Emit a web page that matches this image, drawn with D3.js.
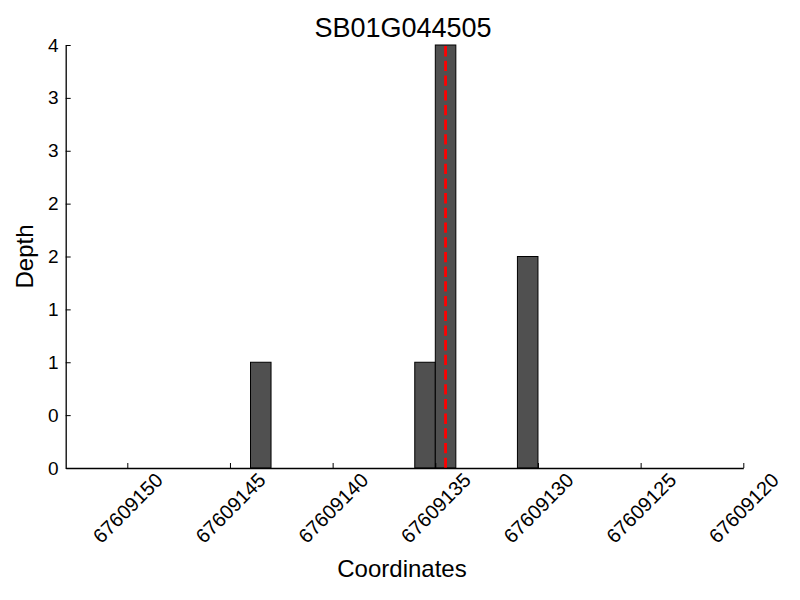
<!DOCTYPE html>
<html><head><meta charset="utf-8">
<script src="https://cdn.jsdelivr.net/npm/d3@7"></script>
<style>body{margin:0;background:#fff}svg{display:block}text{font-family:"Liberation Sans",Arial,Helvetica,sans-serif;fill:#000}</style>
</head><body>
<script>
const title = "SB01G044505";
const barStarts = [67609144, 67609136, 67609135, 67609131];
const barDepths = [1, 1, 4, 2];
const barWidth = 1;
const markerPos = 67609134.5;
const xTicks = [67609150, 67609145, 67609140, 67609135, 67609130, 67609125, 67609120];
const yTicks = [0, 0.5, 1, 1.5, 2, 2.5, 3, 3.5, 4];
const yTickLabels = ["0", "0", "1", "1", "2", "2", "3", "3", "4"];
const xDomain = [67609153, 67609120];
const yDomain = [0, 4];

const W = 800, H = 600;
const L = 65.7, R = 743.3, T = 45, B = 468;
const svg = d3.select("body").append("svg").attr("width", W).attr("height", H);
const x = d3.scaleLinear().domain(xDomain).range([L, R]);
const y = d3.scaleLinear().domain(yDomain).range([B, T]);

// bars
svg.append("g").selectAll("rect").data(barStarts).join("rect")
  .attr("x", d => x(d))
  .attr("width", d => x(d - barWidth) - x(d))
  .attr("y", (d, i) => y(barDepths[i]))
  .attr("height", (d, i) => y(0) - y(barDepths[i]))
  .attr("fill", "#505050").attr("stroke", "#000").attr("stroke-width", 1);

// marker line (drawn bottom to top)
svg.append("line")
  .attr("x1", x(markerPos)).attr("x2", x(markerPos))
  .attr("y1", y(yDomain[0])).attr("y2", y(yDomain[1]))
  .attr("stroke", "#ff0000").attr("stroke-width", 2.8)
  .attr("stroke-dasharray", "10.3,4.4");

// axes
const xAxis = d3.axisBottom(x).tickValues(xTicks).tickSizeInner(-5).tickSizeOuter(0).tickFormat("");
const gx = svg.append("g").attr("transform", `translate(0,${B})`).call(xAxis);
gx.select(".domain").attr("stroke-width", 1.3);
gx.selectAll(".tick line").attr("stroke-width", 1);
gx.selectAll(".tick").append("text")
  .attr("transform", "translate(0,40) rotate(-45)")
  .attr("text-anchor", "middle").attr("dominant-baseline", "central")
  .attr("font-size", 20)
  .text(d => d3.format("d")(d));

const yAxis = d3.axisLeft(y).tickValues(yTicks).tickSizeInner(-5).tickSizeOuter(0)
  .tickFormat((d, i) => yTickLabels[i]);
const gy = svg.append("g").attr("transform", `translate(${L},0)`).call(yAxis);
gy.select(".domain").attr("stroke-width", 1.3);
gy.selectAll(".tick text").attr("x", -7).attr("font-size", 19)
  .attr("font-family", '"Liberation Sans",Arial,sans-serif').attr("fill", "#000");
gy.selectAll(".tick line").attr("stroke-width", 1);

// labels
svg.append("text").attr("x", 403).attr("y", 37).attr("text-anchor", "middle")
  .attr("font-size", 27).text(title);
svg.append("text").attr("x", 402).attr("y", 577).attr("text-anchor", "middle")
  .attr("font-size", 24).text("Coordinates");
svg.append("text").attr("transform", `translate(33,${(T + B) / 2}) rotate(-90)`)
  .attr("text-anchor", "middle").attr("font-size", 24).text("Depth");
</script>
</body></html>
